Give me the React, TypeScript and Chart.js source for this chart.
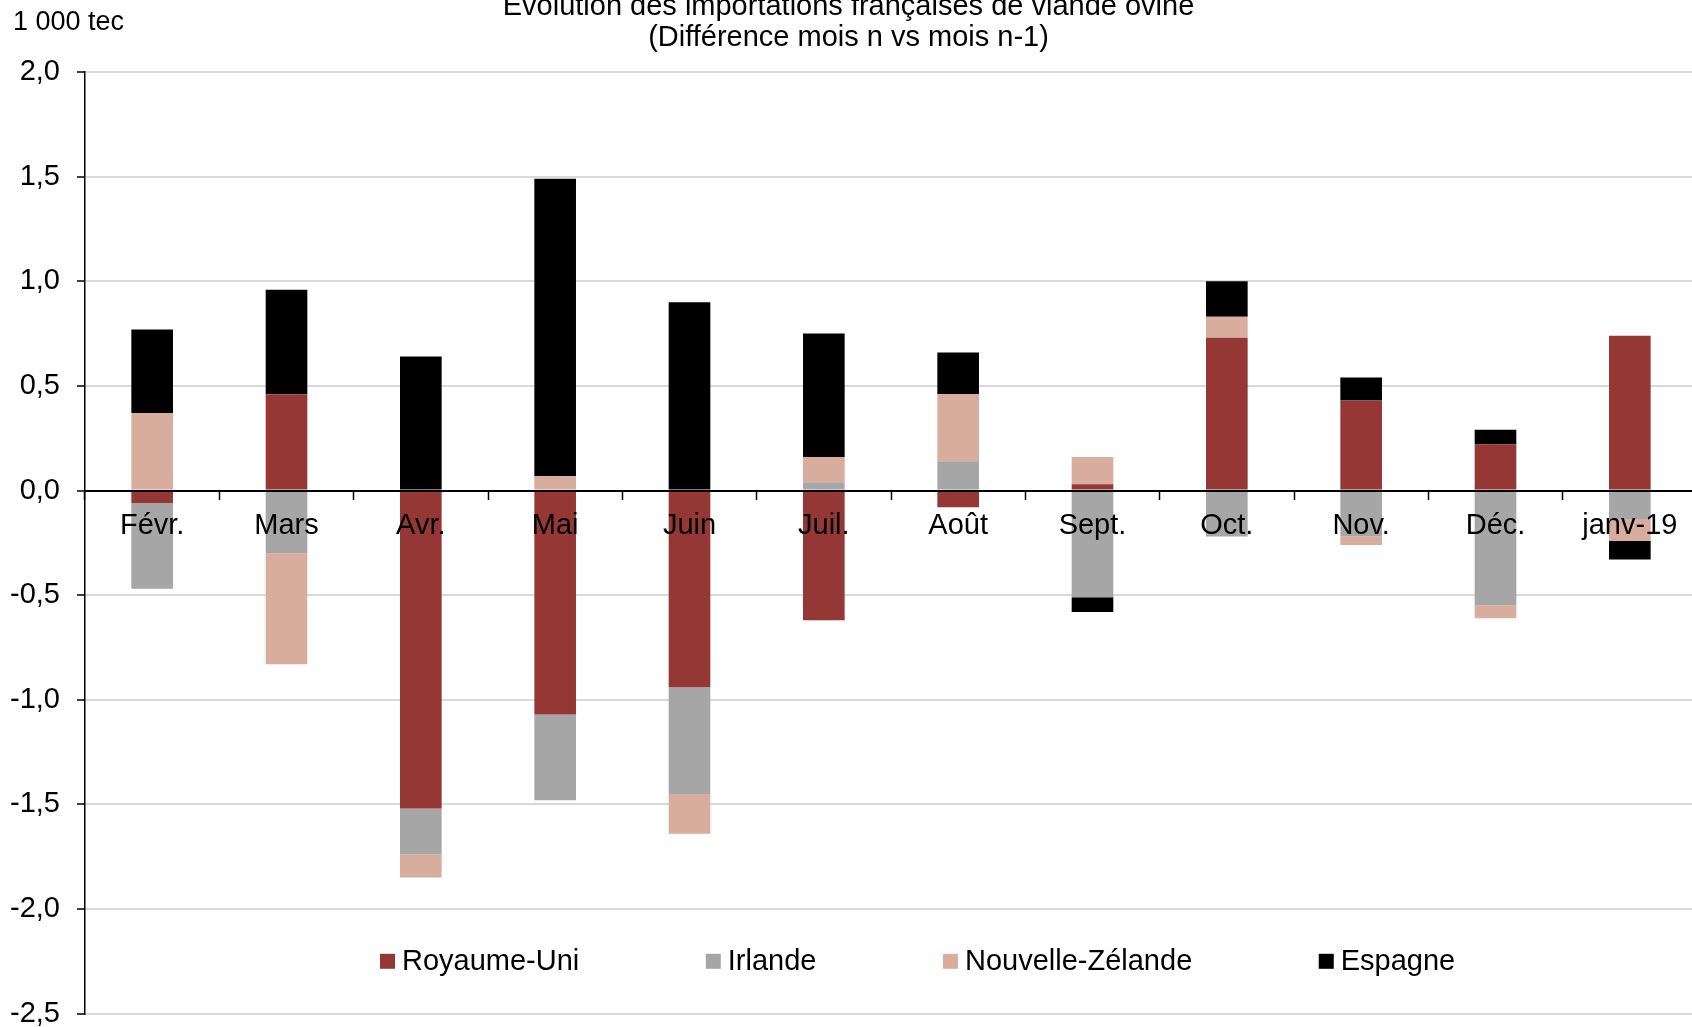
import React, { useEffect, useRef } from 'react';
import { Chart, registerables } from 'chart.js';

Chart.register(...registerables);

// ---- Data ----
const categories = ['Févr.', 'Mars', 'Avr.', 'Mai', 'Juin', 'Juil.', 'Août', 'Sept.', 'Oct.', 'Nov.', 'Déc.', 'janv-19'];
const royaumeUni = [-0.06, 0.46, -1.52, -1.07, -0.94, -0.62, -0.08, 0.03, 0.73, 0.43, 0.22, 0.74];
const irlande = [-0.41, -0.30, -0.22, -0.41, -0.51, 0.04, 0.14, -0.51, -0.22, -0.22, -0.55, -0.14];
const nouvelleZelande = [0.37, -0.53, -0.11, 0.07, -0.19, 0.12, 0.32, 0.13, 0.10, -0.04, -0.06, -0.10];
const espagne = [0.40, 0.50, 0.64, 1.42, 0.90, 0.59, 0.20, -0.07, 0.17, 0.11, 0.07, -0.09];

const seriesNames = ['Royaume-Uni', 'Irlande', 'Nouvelle-Zélande', 'Espagne'];
const seriesColors = ['#953735', '#A6A6A6', '#D8AD9D', '#000000'];

const titleLines = ['Évolution des importations françaises de viande ovine', '(Différence mois n vs mois n-1)'];
const unitLabel = '1 000 tec';
const yMin = -2.5;
const yMax = 2.0;
const yStep = 0.5;
const legendValue = -2.25;

const FONT = "'Liberation Sans', Arial, Helvetica, sans-serif";
const SHIFT = 20;
const CANVAS_W = 1697;
const CANVAS_H = 1068;

const extrasPlugin = {
  id: 'extras',
  afterDraw(chart: any) {
    const ctx = chart.ctx;
    const area = chart.chartArea;
    ctx.save();
    ctx.fillStyle = '#000';
    ctx.textBaseline = 'middle';
    ctx.textAlign = 'left';
    ctx.font = `27px ${FONT}`;
    ctx.fillText(unitLabel, 13, SHIFT + 23);

    // legend inside the plot area
    ctx.font = `29px ${FONT}`;
    const y = chart.scales.y.getPixelForValue(legendValue);
    const box = 15;
    const gapText = 7;
    const gapItem = 126.5;
    let x = area.left + 295;
    chart.data.datasets.forEach((ds: any) => {
      ctx.fillStyle = ds.backgroundColor;
      ctx.fillRect(x, y - box / 2, box, box);
      ctx.fillStyle = '#000';
      const tx = x + box + gapText;
      ctx.fillText(ds.label, tx, y + 1);
      x = tx + ctx.measureText(ds.label).width + gapItem;
    });
    ctx.restore();
  },
};

export default function App() {
  const ref = useRef<HTMLCanvasElement | null>(null);

  useEffect(() => {
    if (!ref.current) return;
    const series = [royaumeUni, irlande, nouvelleZelande, espagne];
    const chart = new Chart(ref.current, {
      type: 'bar',
      data: {
        labels: categories,
        datasets: series.map((d, i) => ({
          label: seriesNames[i],
          data: d,
          backgroundColor: seriesColors[i],
          borderWidth: 0,
          barPercentage: 0.31,
          categoryPercentage: 1.0,
        })),
      },
      options: {
        responsive: false,
        animation: false,
        devicePixelRatio: 1,
        layout: { padding: { left: 0, right: 0, top: 0, bottom: 0 } },
        plugins: {
          legend: { display: false },
          tooltip: { enabled: false },
          title: {
            display: true,
            text: titleLines,
            color: '#000',
            font: { family: FONT, size: 29, weight: 'normal', lineHeight: 1.07 },
            padding: { top: 11.5, bottom: 18.5 },
          },
        },
        scales: {
          x: {
            stacked: true,
            position: { y: 0 } as any,
            offset: true,
            grid: {
              display: true,
              drawOnChartArea: false,
              drawTicks: true,
              tickLength: 8,
              tickColor: '#000',
              tickWidth: 1.5,
              offset: true,
              z: 1,
            },
            border: { display: true, color: '#000', width: 2, z: 1 },
            ticks: {
              color: '#000',
              font: { family: FONT, size: 29 },
              padding: 10,
              maxRotation: 0,
              autoSkip: false,
              z: 1,
            },
          },
          y: {
            stacked: true,
            min: yMin,
            max: yMax,
            afterFit: (scale: any) => {
              scale.width = 85;
            },
            grid: {
              color: '#D9D9D9',
              lineWidth: 2,
              drawTicks: true,
              tickLength: 8,
              tickColor: '#000',
              tickWidth: 1.5,
            },
            border: { display: true, color: '#000', width: 1.5 },
            ticks: {
              stepSize: yStep,
              color: '#000',
              font: { family: FONT, size: 29 },
              padding: 17,
              callback: (v: any) => Number(v).toFixed(1).replace('.', ','),
            },
          },
        },
      },
      plugins: [extrasPlugin],
    });
    return () => chart.destroy();
  }, []);

  return (
    <div
      style={{
        position: 'fixed',
        left: 0,
        top: 0,
        width: 1692,
        height: 1027,
        overflow: 'hidden',
        background: '#fff',
      }}
    >
      <canvas
        ref={ref}
        width={CANVAS_W}
        height={CANVAS_H}
        style={{ position: 'absolute', left: 0, top: -SHIFT, width: CANVAS_W, height: CANVAS_H }}
      />
    </div>
  );
}
